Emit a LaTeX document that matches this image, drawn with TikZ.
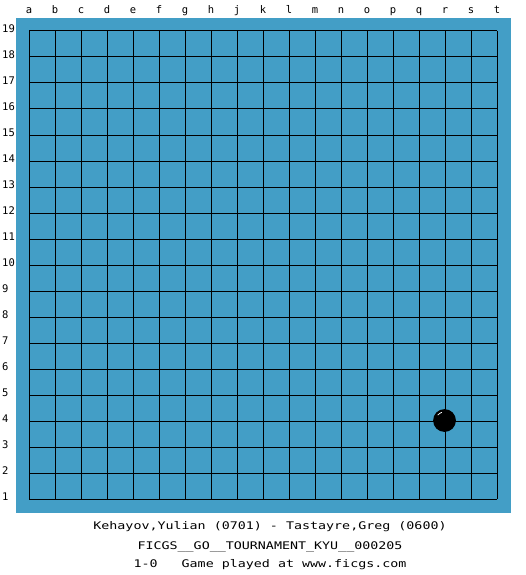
\documentclass[tikz,border=0pt]{standalone}
\usepackage{fontspec}
\setmonofont{DejaVu Sans Mono}
\definecolor{board}{RGB}{67,158,198}
\begin{document}
\begin{tikzpicture}[x=1pt,y=-1pt,
  lbl/.style={font=\ttfamily\fontsize{10.5}{12}\selectfont, inner sep=0pt, text=black},
  gridline/.style={black, line width=1pt},
  stonestyle/.style={circle, fill=black, minimum size=22.8pt, inner sep=0pt}]
\useasboundingbox (0,0) rectangle (525,575);
\fill[white] (0,0) rectangle (525,575);
\fill[board] (16,18) rectangle (511,513);
\foreach \i in {0,...,18} {
  \draw[gridline] (29+26*\i,31) -- (29+26*\i,499);
  \draw[gridline] (29,31+26*\i) -- (497,31+26*\i);
}
\foreach \l [count=\k from 0] in {a,b,c,d,e,f,g,h,j,k,l,m,n,o,p,q,r,s,t}
  \node[lbl, anchor=base] (col\l) at (29+26*\k,14) {\l};
\foreach \r in {1,...,19}
  \node[lbl, anchor=base west] (row\r) at (2,499-26*\r+26+1.5) {\r};
\node[stonestyle] (stone) at (444.5,420.5) {};
\draw[white, line width=0.7pt] ([shift={(218:8.6)}]stone.center) arc (218:252:8.6);
\node[lbl, anchor=base] (players) at (270,529.5) {\scalebox{1.27}[1]{Kehayov,Yulian (0701) - Tastayre,Greg (0600)}};
\node[lbl, anchor=base] (event) at (270,549) {\scalebox{1.27}[1]{FICGS\_\_GO\_\_TOURNAMENT\_KYU\_\_000205}};
\node[lbl, anchor=base] (result) at (270,567.5) {\scalebox{1.27}[1]{1-0\ \ \ Game played at www.ficgs.com}};
\end{tikzpicture}
\end{document}
